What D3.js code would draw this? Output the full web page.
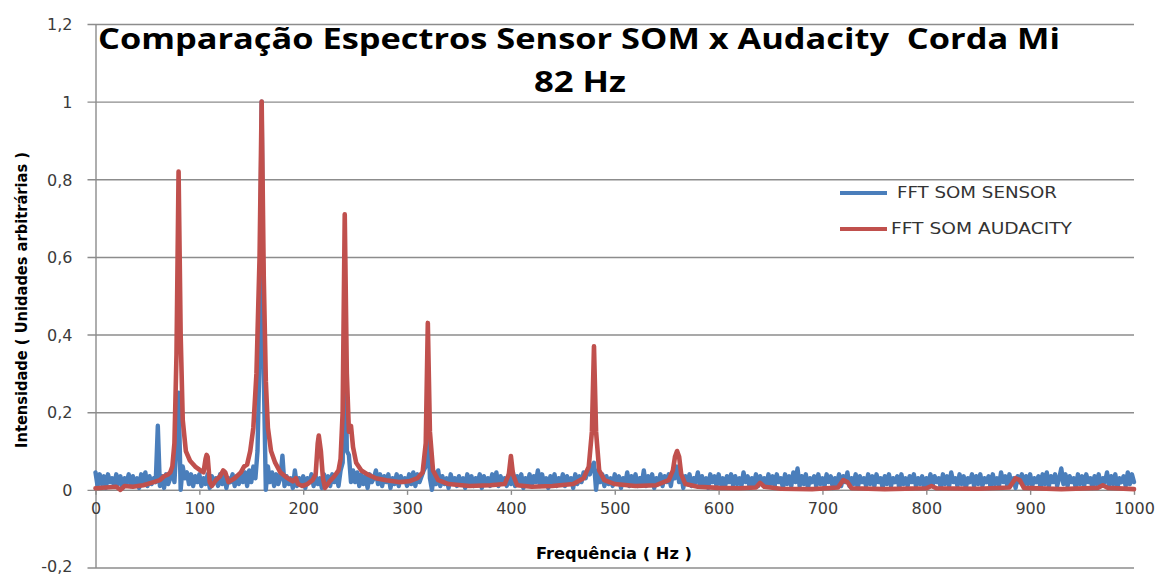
<!DOCTYPE html>
<html>
<head>
<meta charset="utf-8">
<script src="https://cdn.jsdelivr.net/npm/d3@7"></script>
<style>
  body { margin: 0; background: #fff; }
  svg { display: block; }
  .grid line { stroke: #a6a6a6; stroke-width: 1.4; }
  .axis path, .axis line { stroke: #8c8c8c; stroke-width: 1.4; }
  .axis text { font-family: "DejaVu Sans", sans-serif; font-size: 16px; fill: #3a3a3a; }
</style>
</head>
<body>
<svg width="1159" height="576"></svg>
<script>
// Data
const sensorStep = 2; // Hz between FFT bins of the sensor
const sensorValues = [
  0.045,0.01,0.04,0.015,0.035,0.005,0.04,0.02,0.03,0.01,0.04,0.015,0.035,0.005,0.03,0.02,0.04,0.01,0.035,0.015,0.03,0.005,0.04,0.02,0.045,
  0.01,0.035,0.015,0.03,0.02,0.165,0.01,0.035,0.005,0.04,0.015,0.03,0.05,0.02,0.12,0.25,0.0,0.06,0.03,0.045,0.015,0.04,0.01,0.035,0.02,
  0.04,0.01,0.03,0.015,0.04,0.005,0.035,0.02,0.03,0.01,0.04,0.015,0.035,0.005,0.03,0.02,0.04,0.01,0.035,0.015,0.04,0.02,0.045,0.01,0.05,
  0.02,0.06,0.03,0.1,0.35,1.0,0.3,0.0,0.06,0.02,0.045,0.01,0.04,0.015,0.03,0.088,0.01,0.035,0.015,0.03,0.005,0.05,0.01,0.03,0.015,
  0.035,0.005,0.03,0.02,0.04,0.01,0.035,0.015,0.03,0.005,0.04,0.015,0.035,0.01,0.04,0.02,0.035,0.01,0.05,0.07,0.52,0.1,0.09,0.02,0.05,
  0.02,0.045,0.01,0.04,0.015,0.035,0.005,0.04,0.02,0.03,0.05,0.015,0.04,0.01,0.035,0.02,0.04,0.005,0.03,0.015,0.04,0.01,0.035,0.02,0.03,
  0.01,0.04,0.015,0.045,0.01,0.04,0.02,0.035,0.05,0.06,0.24,0.03,0.0,0.045,0.015,0.05,0.01,0.035,0.015,0.03,0.005,0.04,0.02,0.03,0.01,
  0.035,0.015,0.03,0.005,0.04,0.02,0.035,0.01,0.03,0.015,0.04,0.005,0.035,0.02,0.03,0.01,0.04,0.015,0.045,0.01,0.035,0.02,0.03,0.01,0.04,
  0.015,0.045,0.01,0.035,0.02,0.04,0.005,0.03,0.015,0.04,0.01,0.035,0.02,0.05,0.01,0.04,0.015,0.03,0.005,0.035,0.02,0.04,0.01,0.03,0.015,
  0.04,0.01,0.035,0.02,0.03,0.005,0.04,0.015,0.035,0.02,0.045,0.03,0.05,0.04,0.06,0.07,0.0,0.05,0.02,0.04,0.01,0.035,0.015,0.03,0.01,
  0.04,0.02,0.035,0.005,0.03,0.015,0.045,0.01,0.035,0.02,0.04,0.01,0.03,0.015,0.05,0.01,0.035,0.02,0.04,0.005,0.03,0.015,0.04,0.01,0.035,
  0.02,0.04,0.01,0.045,0.03,0.06,0.02,0.04,0.005,0.035,0.015,0.04,0.01,0.03,0.02,0.045,0.01,0.035,0.015,0.03,0.005,0.04,0.02,0.035,0.01,
  0.04,0.015,0.03,0.005,0.035,0.02,0.04,0.01,0.035,0.015,0.03,0.01,0.045,0.02,0.035,0.005,0.03,0.015,0.04,0.01,0.035,0.02,0.03,0.01,0.04,
  0.015,0.035,0.01,0.04,0.02,0.03,0.005,0.04,0.015,0.035,0.01,0.045,0.02,0.055,0.01,0.035,0.015,0.04,0.005,0.03,0.02,0.035,0.01,0.04,0.015,
  0.03,0.01,0.04,0.02,0.035,0.005,0.03,0.015,0.04,0.01,0.035,0.02,0.045,0.01,0.03,0.015,0.04,0.005,0.035,0.02,0.03,0.01,0.04,0.015,0.035,
  0.01,0.04,0.02,0.03,0.005,0.035,0.015,0.04,0.01,0.03,0.02,0.035,0.005,0.04,0.015,0.03,0.01,0.035,0.02,0.04,0.01,0.03,0.015,0.035,0.005,
  0.03,0.015,0.04,0.01,0.035,0.02,0.03,0.005,0.04,0.015,0.035,0.01,0.045,0.02,0.03,0.01,0.04,0.015,0.035,0.005,0.03,0.02,0.04,0.01,0.035,
  0.015,0.04,0.01,0.03,0.02,0.035,0.005,0.04,0.015,0.03,0.01,0.045,0.02,0.035,0.01,0.04,0.015,0.03,0.005,0.035,0.02,0.04,0.01,0.035,0.015,
  0.04,0.01,0.03,0.02,0.035,0.005,0.04,0.015,0.045,0.01,0.035,0.02,0.04,0.01,0.03,0.055,0.015,0.04,0.01,0.035,0.02,0.03,0.005,0.04,0.015,
  0.035,0.01,0.04,0.02,0.03,0.005,0.035,0.015,0.04,0.01,0.03,0.02,0.045,0.01,0.035,0.015,0.04,0.005,0.03,0.02,0.035,0.01,0.045,0.015,0.04,
  0.02
];

const audacityFreq = [
  0,10,20,24,28,36,46,56,62,66,70,72,74,76,78,80,82,84,87,91,96,101,104,106,107,108,110,112,116,120,123,125,128,134,140,143,146,149,152,155,158,160,
  162,164,166,169,173,178,184,190,193,195,199,204,209,212,214,215,217,219,221,225,230,234,236,238,240,242,244,246,248,251,256,262,270,280,292,
  302,310,315,318,320,322,325,330,340,360,380,394,398,400,402,406,420,440,460,470,475,478,480,482,485,490,500,520,540,552,556,558,560,562,564,
  568,580,600,620,636,640,644,660,690,715,720,724,728,760,800,805,810,850,880,886,890,894,930,965,970,975,1000
];
const audacityValues = [
  0.004,0.006,0.008,0.0,0.01,0.008,0.012,0.02,0.025,0.035,0.04,0.045,0.06,0.12,0.35,0.82,0.4,0.18,0.1,0.075,0.06,0.05,0.045,0.08,0.09,0.085,0.02,0.01,0.025,0.035,0.05,0.045,0.02,0.03,0.045,0.06,0.065,0.1,0.16,0.3,0.6,1.0,
  0.55,0.28,0.16,0.1,0.07,0.045,0.032,0.022,0.03,0.015,0.01,0.015,0.025,0.04,0.12,0.14,0.1,0.03,0.005,0.02,0.035,0.05,0.08,0.2,0.71,0.3,0.15,0.165,0.11,0.07,0.05,0.04,0.03,0.025,0.02,
  0.022,0.03,0.045,0.12,0.43,0.15,0.05,0.025,0.015,0.01,0.012,0.015,0.04,0.087,0.04,0.012,0.008,0.01,0.015,0.03,0.06,0.15,0.37,0.15,0.05,0.025,0.015,0.01,0.012,0.025,0.05,0.085,0.1,0.085,0.04,
  0.015,0.008,0.005,0.004,0.006,0.018,0.008,0.003,0.002,0.006,0.025,0.02,0.004,0.002,0.004,0.01,0.004,0.003,0.006,0.03,0.025,0.005,0.002,0.005,0.012,0.005,0.002
];

const seriesNames = ["FFT SOM SENSOR", "FFT SOM AUDACITY"];
const seriesColors = ["#4a7ebb", "#c0504d"];

const yTicks = [-0.2, 0, 0.2, 0.4, 0.6, 0.8, 1, 1.2];
const yTickLabels = ["-0,2", "0", "0,2", "0,4", "0,6", "0,8", "1", "1,2"];
const xTicks = [0, 100, 200, 300, 400, 500, 600, 700, 800, 900, 1000];
const xTickLabels = ["0", "100", "200", "300", "400", "500", "600", "700", "800", "900", "1000"];

const titleLines = ["Comparação Espectros Sensor SOM x Audacity  Corda Mi", "82 Hz"];
const xTitle = "Frequência ( Hz )";
const yTitle = "Intensidade ( Unidades arbitrárias )";

const sensorData = sensorValues.map((v, i) => ({ f: i * sensorStep, v: v }));
const audacityData = audacityFreq.map((f, i) => ({ f: f, v: audacityValues[i] }));

// Layout
const svg = d3.select("svg");
const plot = { left: 95.5, right: 1134, top: 24, bottom: 567.5 };

const x = d3.scaleLinear().domain([0, 1000]).range([plot.left, plot.right]);
const y = d3.scaleLinear().domain([-0.2, 1.2]).range([plot.bottom, plot.top]);

// Gridlines + y labels
const yAxis = svg
  .append("g")
  .attr("class", "axis grid")
  .attr("transform", `translate(${plot.left},0)`)
  .call(
    d3
      .axisLeft(y)
      .tickValues(yTicks)
      .tickFormat((d, i) => yTickLabels[i])
      .tickSizeInner(-(plot.right - plot.left))
      .tickSizeOuter(0)
      .tickPadding(0)
  );
yAxis.selectAll(".tick line").attr("x1", -8);
// bottom label sits at the image edge, nudge it up a little
yAxis
  .selectAll(".tick text")
  .attr("x", -23)
  .attr("dy", (d) => (d === -0.2 ? "0.22em" : "0.36em"));

// X axis at y = 0
svg
  .append("g")
  .attr("class", "axis")
  .attr("transform", `translate(0,${y(0)})`)
  .call(
    d3
      .axisBottom(x)
      .tickValues(xTicks)
      .tickFormat((d, i) => xTickLabels[i])
      .tickSize(5)
      .tickSizeOuter(0)
      .tickPadding(8)
  );

// Series lines
const line = d3
  .line()
  .x((d) => x(d.f))
  .y((d) => y(d.v));

[sensorData, audacityData].forEach((data, i) => {
  svg
    .append("path")
    .datum(data)
    .attr("fill", "none")
    .attr("stroke", seriesColors[i])
    .attr("stroke-width", i === 0 ? 4.4 : 4.6)
    .attr("stroke-linejoin", "round")
    .attr("stroke-linecap", "round")
    .attr("d", line);
});

// Title
svg
  .selectAll(".title")
  .data(titleLines)
  .enter()
  .append("text")
  .attr("class", "title")
  .attr("x", (d, i) => (i === 0 ? 579 : 580))
  .attr("y", (d, i) => (i === 0 ? 49 : 92))
  .attr("text-anchor", "middle")
  .attr("font-family", "'Open Sans', sans-serif")
  .attr("font-weight", "bold")
  .attr("font-size", 28)
  .attr("fill", "#000")
  .style("white-space", "pre")
  .attr("textLength", (d, i) => (i === 0 ? 962 : 92))
  .attr("lengthAdjust", "spacingAndGlyphs")
  .text((d) => d);

// Axis titles
svg
  .append("text")
  .attr("x", 614)
  .attr("y", 559)
  .attr("text-anchor", "middle")
  .attr("font-family", "'DejaVu Sans', sans-serif")
  .attr("font-weight", "bold")
  .attr("font-size", 15.5)
  .attr("textLength", 156)
  .attr("lengthAdjust", "spacingAndGlyphs")
  .text(xTitle);

svg
  .append("text")
  .attr("transform", "translate(27,300) rotate(-90)")
  .attr("text-anchor", "middle")
  .attr("font-family", "'DejaVu Sans', sans-serif")
  .attr("font-weight", "bold")
  .attr("font-size", 16)
  .attr("textLength", 296)
  .attr("lengthAdjust", "spacingAndGlyphs")
  .text(yTitle);

// Legend
const legend = svg
  .selectAll(".legend")
  .data(seriesNames)
  .enter()
  .append("g")
  .attr("class", "legend")
  .attr("transform", (d, i) => `translate(840,${193 + i * 36})`);

legend
  .append("line")
  .attr("x1", 0)
  .attr("x2", 47)
  .attr("stroke", (d, i) => seriesColors[i])
  .attr("stroke-width", 4);

legend
  .append("text")
  .attr("x", (d, i) => (i === 0 ? 57 : 51))
  .attr("dy", "0.36em")
  .attr("font-family", "'DejaVu Sans', sans-serif")
  .attr("font-size", 15)
  .attr("fill", "#333")
  .attr("textLength", (d, i) => (i === 0 ? 160 : 181))
  .attr("lengthAdjust", "spacingAndGlyphs")
  .text((d) => d);
</script>
</body>
</html>
